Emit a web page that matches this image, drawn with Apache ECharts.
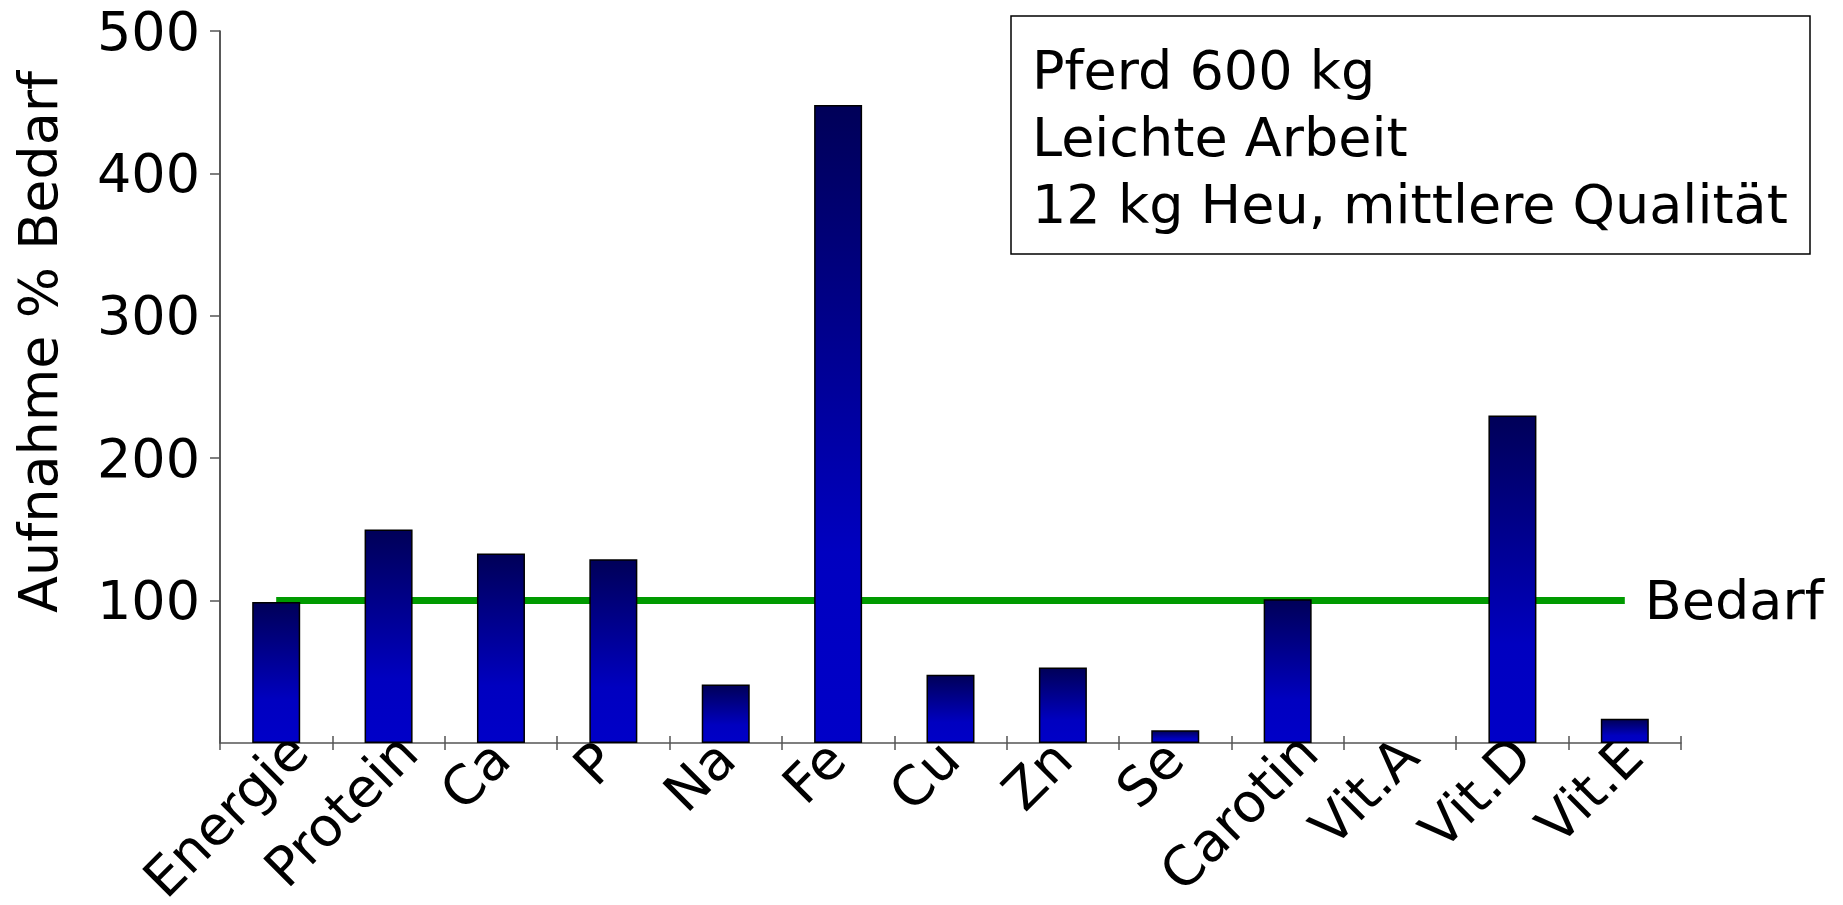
<!DOCTYPE html>
<html>
<head>
<meta charset="utf-8">
<script src="https://cdn.jsdelivr.net/npm/echarts@6/dist/echarts.min.js"></script>
<style>
	html, body { margin: 0; padding: 0; background: #fff; }
	#chart { width: 1843px; height: 905px; }
</style>
</head>
<body>
<div id="chart"></div>
<script>
const categories = ["Energie", "Protein", "Ca", "P", "Na", "Fe", "Cu", "Zn", "Se", "Carotin", "Vit.A", "Vit.D", "Vit.E"];
const aufnahme = [99, 150, 133, 129, 41, 448, 48, 53, 9, 101, 0, 230, 17];
const bedarf = [100, 100, 100, 100, 100, 100, 100, 100, 100, 100, 100, 100, 100];
const yTicks = { min: 0, max: 500, interval: 100 };
const infoLines = ["Pferd 600 kg", "Leichte Arbeit", "12 kg Heu, mittlere Qualität"];

const font = "'DejaVu Sans', 'Lucida Grande', sans-serif";
const chart = echarts.init(document.getElementById("chart"), null, { renderer: "svg" });

// empty bars (Vit.A) should not leave a border stroke on the axis
const barData = aufnahme.map(v => (v === 0 ? { value: v, itemStyle: { borderWidth: 0 } } : v));

// the original pushes longer rotated labels further up/right, so pad each one by its width
const measure = document.createElement("canvas").getContext("2d");
measure.font = "54px " + font;
const labelRich = {};
categories.forEach((c, i) => {
	const w = measure.measureText(c).width;
	labelRich["c" + i] = {
		fontSize   : 54,
		fontFamily : font,
		color      : "#000",
		padding    : [0.08 * w, 45 - 0.16 * w, 0, 0],
	};
});

chart.setOption({
	animation : false,
	textStyle : { fontFamily: font },
	grid      : {
		left            : 220,
		right           : 162,
		top             : 31,
		bottom          : 162,
		outerBoundsMode : "none",
	},
	xAxis: [
		{
			type     : "category",
			data     : categories,
			axisLine : { lineStyle: { color: "#555", width: 1.5 } },
			axisTick : { show: true, length: 7, interval: 0, lineStyle: { color: "#555", width: 1.5 } },
			axisLabel: {
				interval      : 0,
				rotate        : 45,
				fontSize      : 54,
				color         : "#000",
				fontFamily    : font,
				verticalAlign : "top",
				margin        : -40,
				formatter     : (v, i) => `{c${i}|${v}}`,
				rich          : labelRich,
			},
		},
		{
			type      : "category",
			data      : categories,
			position  : "bottom",
			axisLine  : { show: false },
			axisTick  : { show: true, inside: true, length: 7, interval: 0, lineStyle: { color: "#555", width: 1.5 } },
			axisLabel : { show: false },
		},
	],
	yAxis: {
		type          : "value",
		min           : yTicks.min,
		max           : yTicks.max,
		interval      : yTicks.interval,
		name          : "Aufnahme % Bedarf",
		nameLocation  : "middle",
		nameGap       : 155,
		nameTextStyle : { fontSize: 54, color: "#000", fontFamily: font, padding: [0, 0, 0, 90] },
		axisLine      : { show: true, lineStyle: { color: "#222", width: 1.5 } },
		axisTick      : { show: true, length: 10, lineStyle: { color: "#555", width: 1.5 } },
		axisLabel     : { fontSize: 54, color: "#000", margin: 20, fontFamily: font, showMinLabel: false },
		splitLine     : { show: false },
	},
	series: [
		{
			type       : "line",
			data       : bedarf,
			symbol     : "none",
			z          : 1,
			lineStyle  : { color: "#009a00", width: 7 },
			endLabel   : {
				show       : true,
				formatter  : "Bedarf",
				fontSize   : 54,
				color      : "#000",
				fontFamily : font,
				distance   : 20,
			},
		},
		{
			type      : "bar",
			data      : barData,
			barWidth  : 48,
			z         : 3,
			itemStyle : {
				borderColor : "#000",
				borderWidth : 1.5,
				color       : new echarts.graphic.LinearGradient(0, 0, 0, 1, [
					{ offset: 0, color: "#000058" },
					{ offset: 0.7, color: "#0000c0" },
					{ offset: 1, color: "#0000c8" },
				]),
			},
		},
	],
	graphic: [
		{
			type  : "rect",
			shape : { x: 1011, y: 16, width: 799, height: 238 },
			style : { fill: "#fff", stroke: "#000", lineWidth: 1.5 },
			z     : 10,
		},
		{
			type  : "text",
			z     : 11,
			style : {
				x             : 1032,
				y             : 37,
				text          : infoLines.join("\n"),
				font          : "54px " + font,
				fill          : "#000",
				lineHeight    : 67,
				verticalAlign : "top",
			},
		},
	],
});
</script>
</body>
</html>
